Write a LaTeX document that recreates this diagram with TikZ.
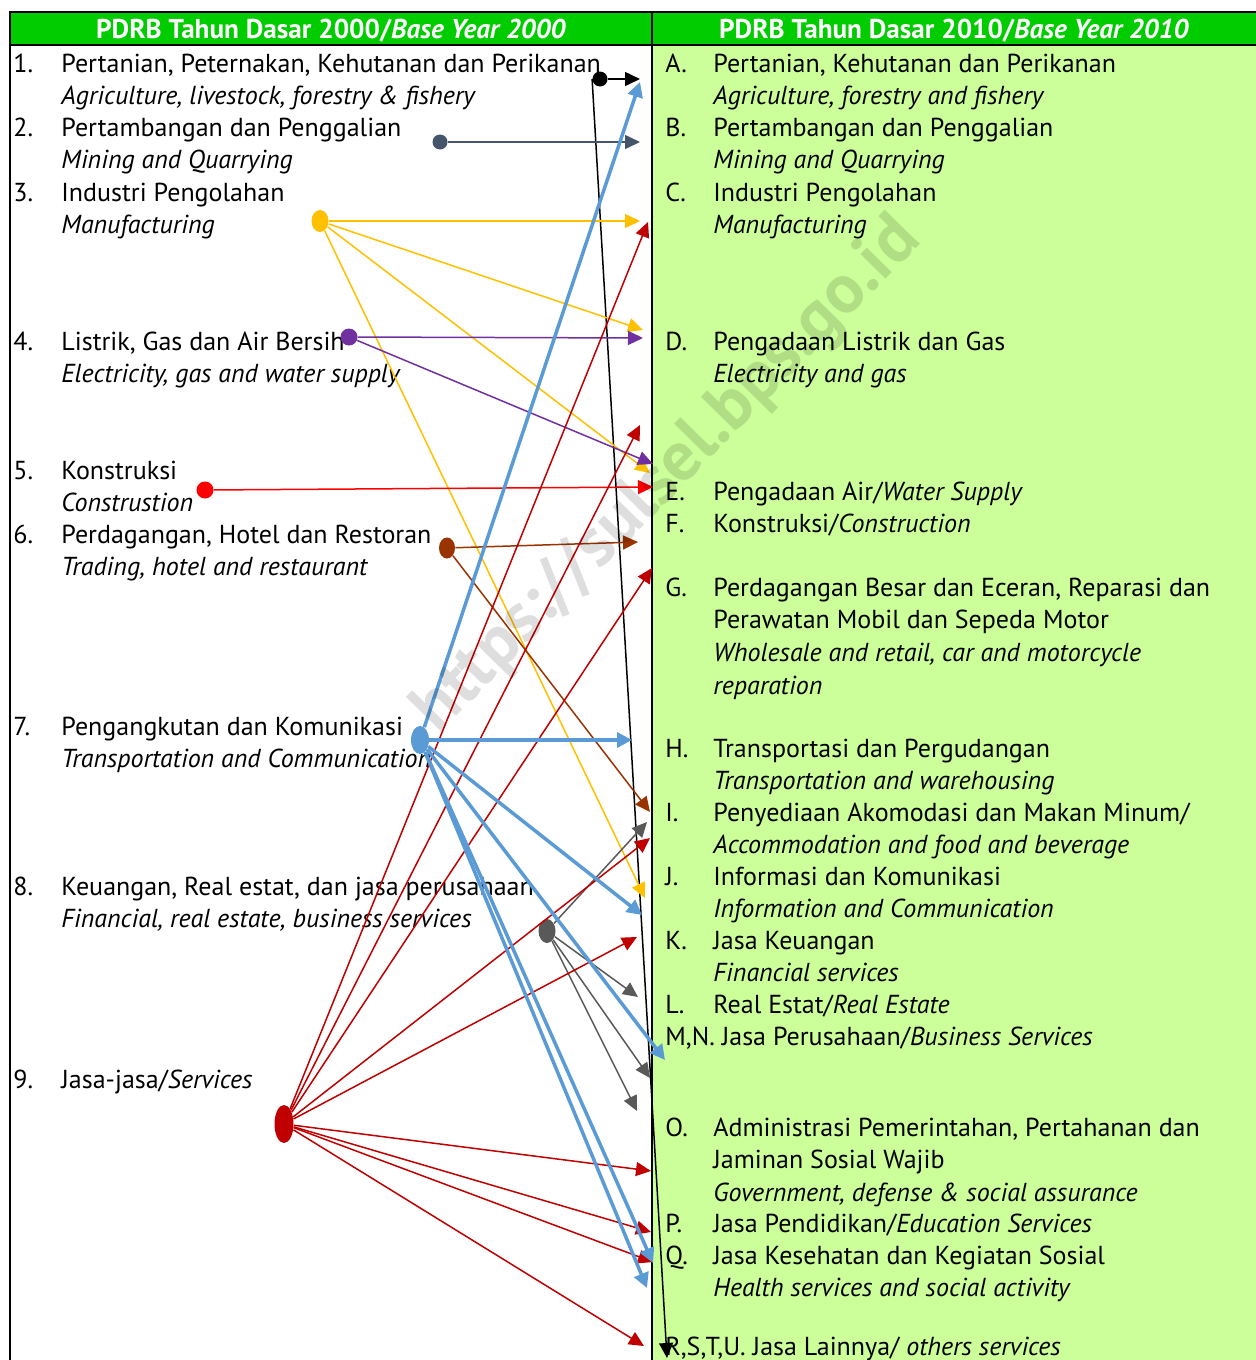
\documentclass[tikz,border=0pt]{standalone}
\usepackage{fontspec}
\setmainfont{PT Sans}
\usetikzlibrary{arrows.meta,positioning,shapes.geometric}
\definecolor{hdrgreen}{HTML}{00CC00}
\definecolor{colgreen}{HTML}{CCFF99}
\definecolor{cMine}{HTML}{44546A}
\definecolor{cManu}{HTML}{FFC000}
\definecolor{cElec}{HTML}{7030A0}
\definecolor{cCons}{HTML}{FF0000}
\definecolor{cTrade}{HTML}{993300}
\definecolor{cTrans}{HTML}{5B9BD5}
\definecolor{cFin}{HTML}{595959}
\definecolor{cServ}{HTML}{C00000}
\def\nr#1{\makebox[24pt][l]{#1}}

\begin{document}
\begin{tikzpicture}[x=0.5pt,y=-0.5pt,every node/.style={font=\fontsize{13pt}{16pt}\selectfont}]
  \tikzstyle{row} = [anchor=base west,inner sep=0pt,text height=9.5pt,text depth=3.5pt];
  \tikzstyle{hdr} = [text=white,anchor=base,font=\bfseries\fontsize{13.6pt}{15pt}\selectfont];
  \tikzset{dot/.style={ellipse,fill=#1,inner sep=0pt,minimum width=8.5pt,minimum height=8.5pt}};
  \tikzset{flow/.style={draw=#1,line width=.75pt,-{Triangle[length=7.5pt,width=7pt]}}};
  \tikzset{wide/.style={draw=cTrans,line width=1.75pt,-{Triangle[length=7.5pt,width=7.5pt]}}};
  \useasboundingbox (0,0) rectangle (1256,1360);
  % columns and header
  \fill[colgreen] (652,45) rectangle (1256,1360);
  \fill[hdrgreen] (10,12) rectangle (1256,45);
  \draw[line width=1pt] (1256,12) -- (10,12) -- (10,1360);
  \draw[line width=1pt] (10,45) -- (1256,45);
  \draw[line width=1pt] (652,12) -- (652,1360);
  \node[hdr] (hOld) at (331,39) {PDRB Tahun Dasar 2000/\textit{Base Year 2000}};
  \node[hdr] (hNew) at (954,39) {PDRB Tahun Dasar 2010/\textit{Base Year 2010}};

  % base year 2000
  \node[row] (o1) at (13,72) {\nr{1.}Pertanian, Peternakan, Kehutanan dan Perikanan};
  \node[row,below=3pt of o1.south west,anchor=north west] {\nr{}\textit{Agriculture, livestock, forestry \& fishery}};
  \node[row] (o2) at (13,136) {\nr{2.}Pertambangan dan Penggalian};
  \node[row,below=3pt of o2.south west,anchor=north west] {\nr{}\textit{Mining and Quarrying}};
  \node[row] (o3) at (13,201) {\nr{3.}Industri Pengolahan};
  \node[row,below=3pt of o3.south west,anchor=north west] {\nr{}\textit{Manufacturing}};
  \node[row] (o4) at (13,350) {\nr{4.}Listrik, Gas dan Air Bersih};
  \node[row,below=3pt of o4.south west,anchor=north west] {\nr{}\textit{Electricity, gas and water supply}};
  \node[row] (o5) at (13,479) {\nr{5.}Konstruksi};
  \node[row,below=3pt of o5.south west,anchor=north west] {\nr{}\textit{Construstion}};
  \node[row] (o6) at (13,543) {\nr{6.}Perdagangan, Hotel dan Restoran};
  \node[row,below=3pt of o6.south west,anchor=north west] {\nr{}\textit{Trading, hotel and restaurant}};
  \node[row] (o7) at (13,735) {\nr{7.}Pengangkutan dan Komunikasi};
  \node[row,below=3pt of o7.south west,anchor=north west] {\nr{}\textit{Transportation and Communication}};
  \node[row] (o8) at (13,895) {\nr{8.}Keuangan, Real estat, dan jasa perusahaan};
  \node[row,below=3pt of o8.south west,anchor=north west] {\nr{}\textit{Financial, real estate, business services}};
  \node[row] (o9) at (13,1088) {\nr{9.}Jasa-jasa/\textit{Services}};

  % base year 2010
  \node[row] (nA) at (665,72) {\nr{A.}Pertanian, Kehutanan dan Perikanan};
  \node[row,below=3pt of nA.south west,anchor=north west] {\nr{}\textit{Agriculture, forestry and fishery}};
  \node[row] (nB) at (665,136) {\nr{B.}Pertambangan dan Penggalian};
  \node[row,below=3pt of nB.south west,anchor=north west] {\nr{}\textit{Mining and Quarrying}};
  \node[row] (nC) at (665,201) {\nr{C.}Industri Pengolahan};
  \node[row,below=3pt of nC.south west,anchor=north west] {\nr{}\textit{Manufacturing}};
  \node[row] (nD) at (665,350) {\nr{D.}Pengadaan Listrik dan Gas};
  \node[row,below=3pt of nD.south west,anchor=north west] {\nr{}\textit{Electricity and gas}};
  \node[row] (nE) at (665,500) {\nr{E.}Pengadaan Air/\textit{Water Supply}};
  \node[row] (nF) at (665,532) {\nr{F.}Konstruksi/\textit{Construction}};
  \node[row] (nG) at (665,596) {\nr{G.}Perdagangan Besar dan Eceran, Reparasi dan};
  \node[row,below=3pt of nG.south west,anchor=north west] (nG2) {\nr{}Perawatan Mobil dan Sepeda Motor};
  \node[row,below=3pt of nG2.south west,anchor=north west] (nG3) {\nr{}\textit{Wholesale and retail, car and motorcycle}};
  \node[row,below=3pt of nG3.south west,anchor=north west] {\nr{}\textit{reparation}};
  \node[row] (nH) at (665,757) {\nr{H.}Transportasi dan Pergudangan};
  \node[row,below=3pt of nH.south west,anchor=north west] {\nr{}\textit{Transportation and warehousing}};
  \node[row] (nI) at (665,821) {\nr{I.}Penyediaan Akomodasi dan Makan Minum/};
  \node[row,below=3pt of nI.south west,anchor=north west] {\nr{}\textit{Accommodation and food and beverage}};
  \node[row] (nJ) at (665,885) {\nr{J.}Informasi dan Komunikasi};
  \node[row,below=3pt of nJ.south west,anchor=north west] {\nr{}\textit{Information and Communication}};
  \node[row] (nK) at (665,949) {\nr{K.}Jasa Keuangan};
  \node[row,below=3pt of nK.south west,anchor=north west] {\nr{}\textit{Financial services}};
  \node[row] (nL) at (665,1013) {\nr{L.}Real Estat/\textit{Real Estate}};
  \node[row] (nMN) at (665,1045) {M,N. Jasa Perusahaan/\textit{Business Services}};
  \node[row] (nO) at (665,1136) {\nr{O.}Administrasi Pemerintahan, Pertahanan dan};
  \node[row,below=3pt of nO.south west,anchor=north west] (nO2) {\nr{}Jaminan Sosial Wajib};
  \node[row,below=3pt of nO2.south west,anchor=north west] {\nr{}\textit{Government, defense \& social assurance}};
  \node[row] (nP) at (665,1232) {\nr{P.}Jasa Pendidikan/\textit{Education Services}};
  \node[row] (nQ) at (665,1264) {\nr{Q.}Jasa Kesehatan dan Kegiatan Sosial};
  \node[row,below=3pt of nQ.south west,anchor=north west] {\nr{}\textit{Health services and social activity}};
  \node[row] (nR) at (665,1355) {R,S,T,U. Jasa Lainnya/ \textit{others services}};

  % arrow ends
  \foreach \n/\x/\y in {a1/640/79, a2/640/82, b1/640/142, c1/640/221, c2/648/222,
      d1/643/330, d2/643/338, e1/650/473, e2/653/464, e3/653/487, e4/640/425,
      f1/638/542, g1/652/568, h1/632/740, i1/650/812, i2/647/822, i3/650/838,
      j1/645/898, k1/642/915, k2/637/937, l1/638/997, mn/665/1060, m1/650/1078,
      m2/637/1111, o3/651/1171, p1/651/1232, q1/653/1263, q2/647/1288,
      q3/653/1262, r1/644/1346, rstu/667/1358}
    \coordinate (\n) at (\x,\y);

  % start dots
  \node[dot=black,minimum size=7.5pt] (s1) at (600,79) {};
  \node[dot=cMine,minimum size=7.5pt] (s2) at (440,142) {};
  \node[dot=cManu,minimum height=11pt] (s3) at (320,221) {};
  \node[dot=cElec] (s4) at (349,337) {};
  \node[dot=cCons] (s5) at (205,490) {};
  \node[dot=cTrade,minimum width=8pt,minimum height=10.5pt] (s6) at (447,548) {};
  \node[dot=cTrans,minimum width=9pt,minimum height=14pt] (s7) at (420,740) {};
  \node[dot=cFin,minimum height=12pt] (s8) at (547,931) {};
  \node[dot=cServ,minimum width=9.5pt,minimum height=19pt] (s9) at (284,1124) {};

  % links
  \draw[flow=black] (s1) -- (a1);
  \draw[flow=black] (s1.west) -- (rstu);
  \draw[flow=cMine] (s2) -- (b1);
  \foreach \t in {c1,d1,e1,j1} \draw[flow=cManu] (s3) -- (\t);
  \foreach \t in {d2,e2} \draw[flow=cElec] (s4) -- (\t);
  \draw[flow=cCons] (s5) -- (e3);
  \foreach \t in {f1,i1} \draw[flow=cTrade] (s6) -- (\t);
  \foreach \t in {i2,l1,m1,m2} \draw[flow=cFin] (s8) -- (\t);
  \foreach \t in {c2,e4,g1,i3,k2,o3,p1,q3,r1} \draw[flow=cServ] (s9) -- (\t);
  \foreach \t in {a2,h1,k1,mn,q1,q2} \draw[wide] (s7) -- (\t);

  \node[rotate=45.5,text=black,text opacity=.13,font=\bfseries\fontsize{35pt}{37pt}\selectfont] (wm) at (668,476) {https://sulsel.bps.go.id};
\end{tikzpicture}
\end{document}
